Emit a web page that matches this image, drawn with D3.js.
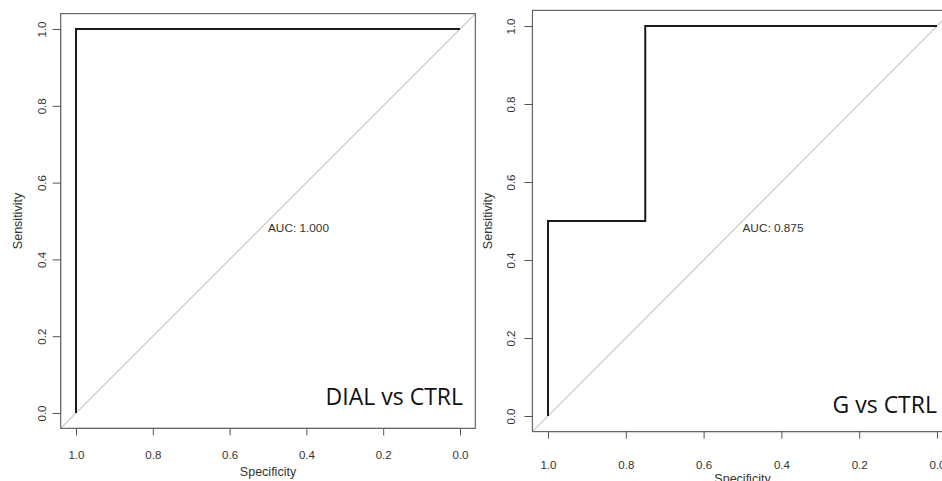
<!DOCTYPE html>
<html><head><meta charset="utf-8">
<script src="https://cdn.jsdelivr.net/npm/d3@7"></script>
<style>
html,body{margin:0;padding:0;background:#fff;}
svg{display:block;}
text{font-family:"Liberation Sans",Arial,sans-serif;}
</style></head>
<body>
<svg id="c" width="942" height="481"></svg>
<script>
// data
const axisTicks = [0, 0.2, 0.4, 0.6, 0.8, 1.0];
const dialSpecificity = [1, 1, 0];
const dialSensitivity = [0, 1, 1];
const gSpecificity = [1, 1, 0.75, 0.75, 0];
const gSensitivity = [0, 0.5, 0.5, 1, 1];
const panelTitles = ["DIAL vs CTRL", "G vs CTRL"];
const aucLabels = ["AUC: 1.000", "AUC: 0.875"];

const svg = d3.select("#c");

const panels = [
  {spec: dialSpecificity, sens: dialSensitivity, title: panelTitles[0], auc: aucLabels[0],
   x0: 76, x1: 460, y0: 413, y1: 29, tickLabY: 455, xLabY: 476, yTickLabX: 42, yLabX: 22,
   titleX: 463, titleY: 405},
  {spec: gSpecificity, sens: gSensitivity, title: panelTitles[1], auc: aucLabels[1],
   x0: 548, x1: 937, y0: 416, y1: 26, tickLabY: 465, xLabY: 483, yTickLabX: 511, yLabX: 492,
   titleX: 937, titleY: 413}
];

panels.forEach(p => {
  const x = d3.scaleLinear().domain([1, 0]).range([p.x0, p.x1]);
  const y = d3.scaleLinear().domain([0, 1]).range([p.y0, p.y1]);
  const g = svg.append("g");
  const bl = x(1.04), br = x(-0.04), bt = y(1.04), bb = y(-0.04);

  // diagonal
  g.append("line").attr("x1", bl).attr("y1", bb).attr("x2", br).attr("y2", bt)
    .attr("stroke", "#c4c4c4").attr("stroke-width", 1.1);

  // box
  g.append("rect").attr("x", bl).attr("y", bt).attr("width", br - bl).attr("height", bb - bt)
    .attr("fill", "none").attr("stroke", "#666").attr("stroke-width", 1.2);

  // roc curve
  const pts = p.spec.map((s, i) => [s, p.sens[i]]);
  g.append("path").datum(pts)
    .attr("d", d3.line().x(d => x(d[0])).y(d => y(d[1])))
    .attr("fill", "none").attr("stroke", "#1a1a1a").attr("stroke-width", 2);

  // x axis
  const xa = g.append("g").attr("transform", `translate(0,${bb})`)
    .call(d3.axisBottom(x).tickValues(axisTicks).tickFormat(d3.format(".1f")).tickSize(7).tickPadding(0));
  xa.select(".domain").attr("d", `M${x(1)},0H${x(0)}`).attr("stroke", "#666");
  xa.selectAll(".tick line").attr("stroke", "#555");
  xa.selectAll(".tick text").attr("y", p.tickLabY - bb).attr("dy", "0.35em")
    .attr("font-size", 11.5).attr("fill", "#333");

  // y axis
  const ya = g.append("g").attr("transform", `translate(${bl},0)`)
    .call(d3.axisLeft(y).tickValues(axisTicks).tickFormat(d3.format(".1f")).tickSize(8));
  ya.select(".domain").attr("d", `M0,${y(0)}V${y(1)}`).attr("stroke", "#666");
  ya.selectAll(".tick line").attr("stroke", "#555");
  ya.selectAll(".tick text").attr("x", null).attr("dy", null)
    .attr("transform", `translate(${p.yTickLabX - bl},0) rotate(-90)`)
    .attr("text-anchor", "middle").attr("dy", "0.35em")
    .attr("font-size", 11.5).attr("fill", "#333");

  // axis labels
  g.append("text").attr("x", (x(1) + x(0)) / 2).attr("y", p.xLabY)
    .attr("text-anchor", "middle").attr("font-size", 12.5).attr("fill", "#333").text("Specificity");
  g.append("text").attr("transform", `translate(${p.yLabX},${(bt + bb) / 2}) rotate(-90)`)
    .attr("text-anchor", "middle").attr("font-size", 12.5).attr("fill", "#333").text("Sensitivity");

  // AUC
  g.append("text").attr("x", x(0.5)).attr("y", y(0.5)).attr("dy", "0.9em")
    .attr("font-size", 11.8).attr("fill", "#333").text(p.auc);

  // title
  g.append("text").attr("x", p.titleX).attr("y", p.titleY).attr("text-anchor", "end")
    .style("font-family", "'Open Sans','Noto Sans',sans-serif")
    .attr("font-size", 23).attr("fill", "#111").text(p.title);
});
</script>
</body></html>
